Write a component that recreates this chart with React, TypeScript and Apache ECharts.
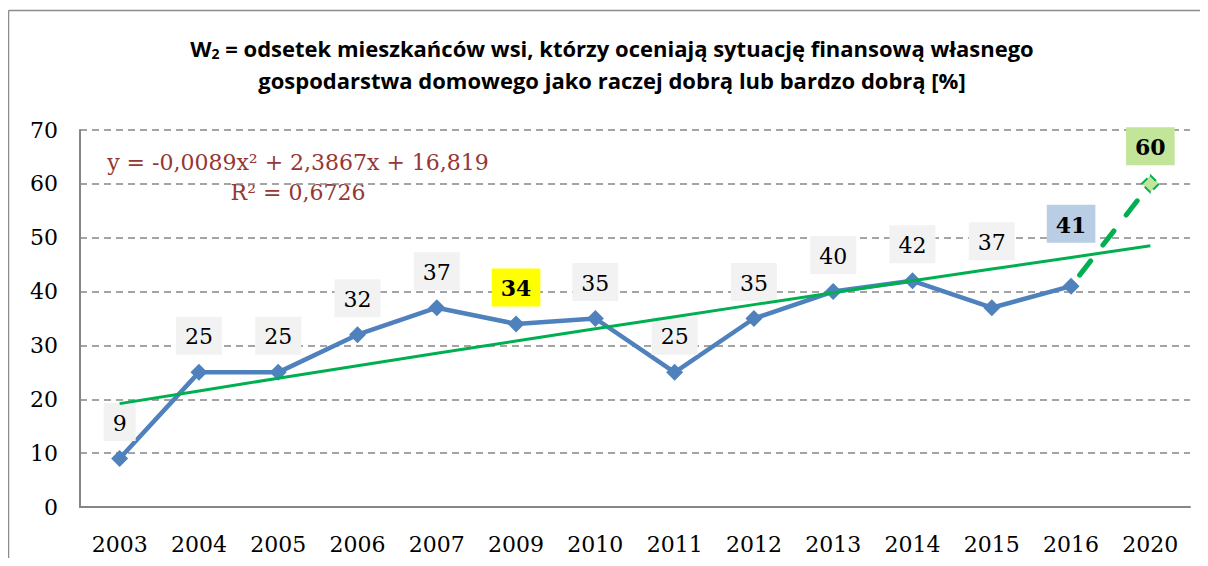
import React, { useEffect, useRef } from "react";
import * as echarts from "echarts";

const years = ["2003", "2004", "2005", "2006", "2007", "2009", "2010", "2011", "2012", "2013", "2014", "2015", "2016", "2020"];
const values: (number | null)[] = [9, 25, 25, 32, 37, 34, 35, 25, 35, 40, 42, 37, 41, null];
const forecast: (number | null)[] = [null, null, null, null, null, null, null, null, null, null, null, null, 41, 60];
const trend = [19.197, 21.557, 23.899, 26.223, 28.53, 30.819, 33.09, 35.343, 37.578, 39.796, 41.996, 44.178, 46.342, 48.488];
const yTicks = [0, 10, 20, 30, 40, 50, 60, 70];
const titleLine2 = "gospodarstwa domowego jako raczej dobrą lub bardzo dobrą [%]";
const equation = "y = -0,0089x² + 2,3867x + 16,819";
const rSquared = "R² = 0,6726";

const SERIF = "'DejaVu Serif', 'Liberation Serif', serif";
const TITLE_FONT = "'Liberation Sans Narrow', 'Open Sans', 'Noto Sans', sans-serif";

export default function App() {
  const ref = useRef<HTMLDivElement>(null);
  useEffect(() => {
    if (!ref.current) return;
    const chart = echarts.init(ref.current, null, { renderer: "svg" });

    const labelOverrides: Record<number, any> = {
      5: { fontWeight: "bold", backgroundColor: "#ffff00" },
      11: { offset: [0, -30] },
      12: { fontWeight: "bold", backgroundColor: "#b9cde5", offset: [0, -26] },
    };

    const mainData = values.map((v, i) => ({
      value: v,
      label: labelOverrides[i] ? { ...labelOverrides[i] } : undefined,
    }));

    const forecastData = forecast.map((v, i) => {
      if (v === null) return { value: null };
      if (i === forecast.length - 1) {
        return {
          value: v,
          symbol: "diamond",
          symbolSize: 17,
          itemStyle: { color: "#c3e59a", borderColor: "#00b050", borderWidth: 2, borderType: "dashed" },
          label: {
            show: true,
            position: "top",
            distance: 9,
            formatter: "{c}",
            fontFamily: SERIF,
            fontSize: 22,
            fontWeight: "bold",
            color: "#000",
            backgroundColor: "#c3e59a",
            padding: [9, 9, 7, 9],
          },
        };
      }
      return { value: v, symbol: "none" };
    });

    chart.setOption({
      animation: false,
      backgroundColor: "#fff",
      grid: { left: 72, right: 10, top: 122, bottom: 51, containLabel: false },
      xAxis: {
        type: "category",
        data: years,
        boundaryGap: true,
        axisLine: { show: true, lineStyle: { color: "#868686", width: 2 } },
        axisTick: { show: false },
        axisLabel: { fontFamily: SERIF, fontSize: 22, color: "#000", margin: 26 },
        splitLine: { show: false },
      },
      yAxis: {
        type: "value",
        min: yTicks[0],
        max: yTicks[yTicks.length - 1],
        interval: 10,
        axisLine: { show: true, lineStyle: { color: "#868686", width: 2 } },
        axisTick: { show: false },
        axisLabel: { fontFamily: SERIF, fontSize: 22, color: "#000", margin: 22 },
        splitLine: { show: true, lineStyle: { color: "#868686", type: [7, 5], width: 1.5 } },
      },
      graphic: [
        {
          type: "line",
          shape: { x1: 0.5, y1: 2.5, x2: 1192, y2: 2.5 },
          style: { stroke: "#8c8c8c", lineWidth: 1.5 },
          silent: true,
        },
        {
          type: "line",
          shape: { x1: 0.5, y1: 2.5, x2: 0.5, y2: 560 },
          style: { stroke: "#8c8c8c", lineWidth: 1.5 },
          silent: true,
        },
        {
          type: "text",
          x: 604,
          y: 40,
          style: {
            text: "{b|W}{s|2}{b| = odsetek mieszkańców wsi, którzy oceniają sytuację finansową własnego}",
            rich: {
              b: { fontFamily: TITLE_FONT, fontWeight: "bold", fontSize: 22, fill: "#000" },
              s: { fontFamily: TITLE_FONT, fontWeight: "bold", fontSize: 14, fill: "#000", padding: [10, 0, 0, 0] },
            },
            align: "center",
            verticalAlign: "middle",
          },
        },
        {
          type: "text",
          x: 604,
          y: 72,
          style: {
            text: titleLine2,
            fontFamily: TITLE_FONT,
            fontWeight: "bold",
            fontSize: 22,
            fill: "#000",
            align: "center",
            verticalAlign: "middle",
          },
        },
        {
          type: "text",
          x: 290,
          y: 154,
          style: { text: equation, fontFamily: SERIF, fontSize: 22, fill: "#953735", align: "center", verticalAlign: "middle" },
        },
        {
          type: "text",
          x: 290,
          y: 184,
          style: { text: rSquared, fontFamily: SERIF, fontSize: 22, fill: "#953735", align: "center", verticalAlign: "middle" },
        },
      ],
      series: [
        {
          type: "line",
          name: "W2",
          data: mainData,
          z: 3,
          symbol: "diamond",
          symbolSize: 17,
          lineStyle: { color: "#4f81bd", width: 4.5 },
          itemStyle: { color: "#4f81bd" },
          label: {
            show: true,
            position: "top",
            distance: 9,
            fontFamily: SERIF,
            fontSize: 22,
            color: "#000",
            backgroundColor: "#f2f2f2",
            padding: [9, 9, 7, 9],
          },
        },
        {
          type: "line",
          name: "trend",
          data: trend,
          z: 4,
          symbol: "none",
          smooth: false,
          lineStyle: { color: "#00b050", width: 3 },
          silent: true,
        },
        {
          type: "line",
          name: "prognoza",
          data: forecastData,
          z: 5,
          connectNulls: false,
          symbol: "diamond",
          symbolSize: 17,
          lineStyle: { color: "#00b050", width: 5, type: [18, 20], cap: "round", dashOffset: -14 },
          itemStyle: { color: "#c3e59a" },
        },
      ],
    });
    return () => chart.dispose();
  }, []);
  return <div ref={ref} style={{ width: 1192, height: 550 }} />;
}
